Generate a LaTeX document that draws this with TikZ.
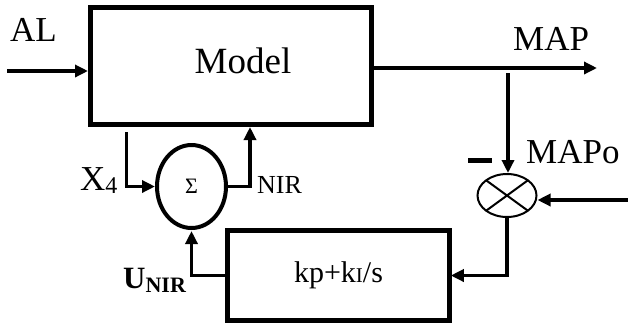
\documentclass[tikz,border=0pt]{standalone}
\usepackage{fontspec}
\setmainfont{Liberation Serif}
\usetikzlibrary{arrows.meta, shapes.geometric, positioning, calc}

\begin{document}
\begin{tikzpicture}[x=1pt, y=-1pt]
\tikzset{
  block/.style={draw, line width=5pt, inner sep=0},
  junction/.style={draw, ellipse, inner sep=0},
  sig/.style={line width=3.5pt, -{Triangle[length=13pt, width=12pt]}},
  lbl/.style={anchor=base west, inner sep=0},
}
  \useasboundingbox (0,0) rectangle (628,325);

  % Model block
  \node[block, minimum width=281pt, minimum height=117pt] (model) at (231,66) {};
  \node[font=\fontsize{37}{37}\selectfont] (modeltxt) at (243,61) {Model};

  % PI controller
  \node[block, line width=4.5pt, minimum width=222pt, minimum height=90pt,
        font=\fontsize{30}{30}\selectfont] (pid) at (338.5,275.5)
    {kp+k{\fontsize{21}{21}\selectfont I}/s};

  % Summing junction
  \node[junction, line width=4pt, minimum width=69pt, minimum height=83pt,
        font=\fontsize{22}{22}\selectfont] (sum) at (191.5,186.5) {Σ};

  % Comparator (crossed ellipse)
  \node[junction, line width=2pt, minimum width=59pt, minimum height=43pt,
        path picture={\draw[line width=2pt]
          (path picture bounding box.north west) -- (path picture bounding box.south east)
          (path picture bounding box.north east) -- (path picture bounding box.south west);}]
    (cmp) at (507,195.5) {};

  % Free ends of the signal lines
  \coordinate (alin) at (7,71);
  \coordinate (mapout) at (597,68);
  \coordinate (tap) at (508,73);
  \coordinate (refin) at (628,200);
  \coordinate (x4top) at (126.5,132);
  \coordinate (nirtop) at (250,127);

  % Signal flow
  \draw[sig] (alin) -- (alin -| model.west);
  \draw[sig] (model.east |- mapout) -- (mapout);
  \draw[sig] (tap) -- (tap |- cmp.north);
  \draw[sig] (refin) -- (refin -| cmp.east);
  \draw[sig, shorten >=-1pt] (cmp.south) |- (pid.east);
  \draw[sig] (x4top) |- (sum.west);
  \draw[sig] (sum.east) -| (nirtop);
  \draw[sig, shorten >=1pt] (pid.west) -| (sum.south);

  % Labels
  \node[lbl, font=\fontsize{35}{35}\selectfont] (al) at (10,41) {AL};
  \node[lbl, font=\fontsize{35}{35}\selectfont] (map) at (513,50) {MAP};
  \node[lbl, font=\fontsize{35}{35}\selectfont] (mapo) at (526,163) {MAPo};
  \node[fill, minimum width=24pt, minimum height=5pt, inner sep=0] (minus) at (479.5,160) {};
  \node[lbl, font=\fontsize{35}{35}\selectfont] (x4) at (80,190)
    {X\raisebox{-3pt}{\fontsize{24}{24}\selectfont 4}};
  \node[lbl, font=\fontsize{26}{26}\selectfont] (nir) at (257,193) {NIR};
  \node[lbl, font=\fontsize{31}{31}\selectfont\bfseries] (unir) at (123,288)
    {U\raisebox{-4pt}{\fontsize{22}{22}\selectfont NIR}};

\end{tikzpicture}
\end{document}
